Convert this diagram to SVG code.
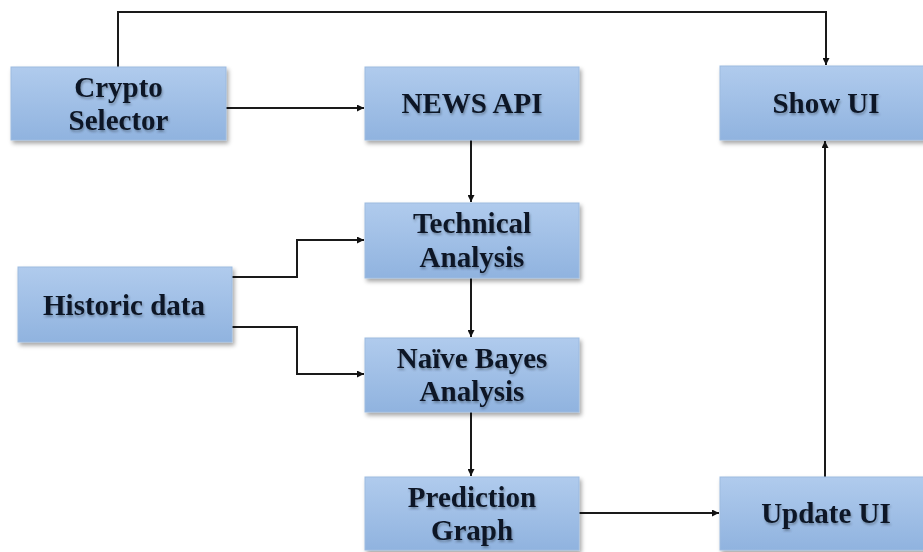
<svg xmlns="http://www.w3.org/2000/svg" width="923" height="552" viewBox="0 0 923 552">
<defs>
<linearGradient id="g" x1="0" y1="0" x2="0" y2="1">
<stop offset="0" stop-color="#b0cbed"/>
<stop offset="1" stop-color="#90b3df"/>
</linearGradient>
<filter id="sh" x="-10%" y="-10%" width="125%" height="135%">
<feGaussianBlur in="SourceAlpha" stdDeviation="2"/>
<feOffset dx="2" dy="3" result="b"/>
<feFlood flood-color="#000" flood-opacity="0.35"/>
<feComposite in2="b" operator="in"/>
<feMerge><feMergeNode/><feMergeNode in="SourceGraphic"/></feMerge>
</filter>
<filter id="ts" x="-10%" y="-20%" width="120%" height="140%">
<feGaussianBlur in="SourceAlpha" stdDeviation="1.2"/>
<feOffset dx="1" dy="1.5" result="b"/>
<feFlood flood-color="#33404f" flood-opacity="0.45"/>
<feComposite in2="b" operator="in"/>
<feMerge><feMergeNode/><feMergeNode in="SourceGraphic"/></feMerge>
</filter>
<marker id="ah" viewBox="0 0 10 10" refX="10" refY="5" markerWidth="8" markerHeight="7" markerUnits="userSpaceOnUse" orient="auto">
<path d="M0,0 L10,5 L0,10 z" fill="#111"/>
</marker>
</defs>
<style>
.box{fill:url(#g);stroke:#9dbbe0;stroke-width:1;filter:url(#sh)}
.t{font-family:"Liberation Serif","Times New Roman",serif;font-weight:bold;font-size:29px;fill:#0c1626;text-anchor:middle;filter:url(#ts)}
.c{fill:none;stroke:#1a1a1a;stroke-width:2;marker-end:url(#ah)}
</style>
<rect width="923" height="552" fill="#fff"/>
<g id="connectors">
<path class="c" d="M118,67 V12 H826 V65"/>
<path class="c" d="M226,108 H364"/>
<path class="c" d="M471,140 V202"/>
<path class="c" d="M232,277 H297 V240 H364"/>
<path class="c" d="M232,327 H297 V374 H364"/>
<path class="c" d="M471,278 V337"/>
<path class="c" d="M471,412 V476"/>
<path class="c" d="M579,513 H719"/>
<path class="c" d="M825,477 V141"/>
</g>
<g id="crypto-selector">
<rect class="box" x="11" y="67" width="215" height="73"/>
<text class="t" x="118.5" y="97">Crypto</text>
<text class="t" x="118.5" y="130">Selector</text>
</g>
<g id="news-api">
<rect class="box" x="365" y="67" width="214" height="73"/>
<text class="t" x="472" y="113">NEWS API</text>
</g>
<g id="show-ui">
<rect class="box" x="720" y="66" width="212" height="74"/>
<text class="t" x="826" y="113">Show UI</text>
</g>
<g id="technical-analysis">
<rect class="box" x="365" y="203" width="214" height="75"/>
<text class="t" x="472" y="233">Technical</text>
<text class="t" x="472" y="267">Analysis</text>
</g>
<g id="historic-data">
<rect class="box" x="18" y="267" width="214" height="75"/>
<text class="t" x="124" y="315">Historic data</text>
</g>
<g id="naive-bayes-analysis">
<rect class="box" x="365" y="338" width="214" height="74"/>
<text class="t" x="472" y="368">Naïve Bayes</text>
<text class="t" x="472" y="401">Analysis</text>
</g>
<g id="prediction-graph">
<rect class="box" x="365" y="477" width="214" height="73"/>
<text class="t" x="472" y="507">Prediction</text>
<text class="t" x="472" y="540">Graph</text>
</g>
<g id="update-ui">
<rect class="box" x="720" y="477" width="212" height="73"/>
<text class="t" x="826" y="523">Update UI</text>
</g>
</svg>
